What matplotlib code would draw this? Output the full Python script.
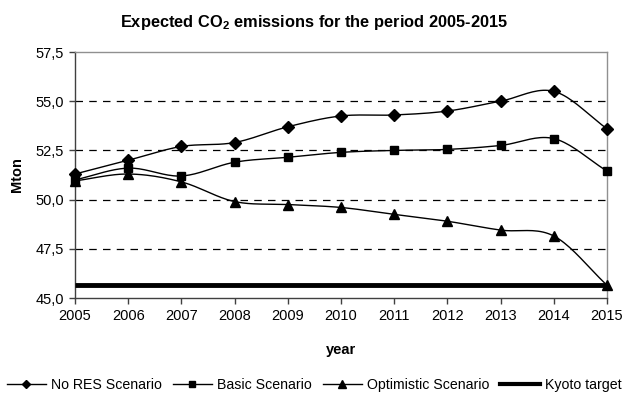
import numpy as np
import matplotlib
matplotlib.use("Agg")
import matplotlib.pyplot as plt
from matplotlib.lines import Line2D

plt.rcParams['font.family'] = ['Liberation Sans', 'DejaVu Sans']
plt.rcParams['mathtext.fontset'] = 'custom'
plt.rcParams['mathtext.rm'] = 'Liberation Sans:bold'
plt.rcParams['mathtext.bf'] = 'Liberation Sans:bold'

years = [2005, 2006, 2007, 2008, 2009, 2010, 2011, 2012, 2013, 2014, 2015]
no_res = [51.3, 52.0, 52.7, 52.9, 53.7, 54.25, 54.3, 54.5, 55.0, 55.5, 53.6]
basic = [51.0, 51.6, 51.2, 51.9, 52.15, 52.4, 52.5, 52.55, 52.75, 53.1, 51.45]
optimistic = [50.95, 51.3, 50.9, 49.9, 49.75, 49.6, 49.25, 48.9, 48.45, 48.15, 45.65]
kyoto = 45.65
yticks = [45.0, 47.5, 50.0, 52.5, 55.0, 57.5]


def smooth(x, y, n=20):
    """Catmull-Rom curve through the points, like a spreadsheet's smoothed line."""
    x = np.asarray(x, float)
    y = np.asarray(y, float)
    px = np.concatenate([[2 * x[0] - x[1]], x, [2 * x[-1] - x[-2]]])
    py = np.concatenate([[2 * y[0] - y[1]], y, [2 * y[-1] - y[-2]]])
    xs, ys = [], []
    t = np.linspace(0, 1, n, endpoint=False)
    for i in range(1, len(px) - 2):
        p0, p1, p2, p3 = px[i - 1:i + 3]
        q0, q1, q2, q3 = py[i - 1:i + 3]
        for a, b, c, d, out in ((p0, p1, p2, p3, xs), (q0, q1, q2, q3, ys)):
            out.extend(0.5 * (2 * b + (-a + c) * t + (2 * a - 5 * b + 4 * c - d) * t ** 2
                              + (-a + 3 * b - 3 * c + d) * t ** 3))
    xs.append(x[-1])
    ys.append(y[-1])
    return np.array(xs), np.array(ys)


fig = plt.figure(figsize=(6.26, 3.99), dpi=100)
ax = fig.add_axes([75 / 626, 1 - 298 / 399, 532 / 626, 246 / 399])

for vals, marker, ms in ((no_res, 'D', 6), (basic, 's', 6.3), (optimistic, '^', 7.5)):
    sx, sy = smooth(years, vals)
    ax.plot(sx, sy, color='black', lw=1.0, zorder=3)
    ax.plot(years, vals, ls='none', marker=marker, ms=ms, color='black', zorder=4,
            clip_on=False)

ax.plot([years[0], years[-1]], [kyoto, kyoto], color='black', lw=3.5, zorder=3,
        solid_capstyle='butt')

ax.set_xlim(years[0], years[-1])
ax.set_ylim(yticks[0], yticks[-1])
ax.set_xticks(years)
ax.set_yticks(yticks)
ax.set_yticklabels([f"{v:.1f}".replace('.', ',') for v in yticks])
for v in yticks[1:-1]:
    ax.axhline(v, color='black', lw=0.9, ls=(0, (6, 5)), zorder=1)

for side in ('top', 'right'):
    ax.spines[side].set_color('#909090')
    ax.spines[side].set_linewidth(1.0)
for side in ('left', 'bottom'):
    ax.spines[side].set_color('#404040')
    ax.spines[side].set_linewidth(1.0)

ax.tick_params(axis='both', direction='out', length=4, width=1, color='#404040',
               labelsize=10.5, pad=4)

ax.set_ylabel('Mton', fontsize=10.5, fontweight='bold', labelpad=8)
ax.set_xlabel('year', fontsize=10.5, fontweight='bold', labelpad=14)
fig.text(314 / 626, 1 - 22 / 399, r'Expected CO$_2$ emissions for the period 2005-2015',
         ha='center', va='center', fontsize=11.8, fontweight='bold')

handles = [
    Line2D([], [], color='black', lw=1.0, marker='D', ms=4.5),
    Line2D([], [], color='black', lw=1.0, marker='s', ms=5),
    Line2D([], [], color='black', lw=1.0, marker='^', ms=5.5),
    Line2D([], [], color='black', lw=3.0),
]
labels = ['No RES Scenario', 'Basic Scenario', 'Optimistic Scenario', 'Kyoto target']
fig.legend(handles, labels, loc='center', bbox_to_anchor=(314 / 626, 1 - 385 / 399),
           ncol=4, frameon=False, fontsize=10.2, handlelength=2.8, handletextpad=0.35,
           columnspacing=0.75, borderpad=0)

fig.savefig('out.png', dpi=100)
